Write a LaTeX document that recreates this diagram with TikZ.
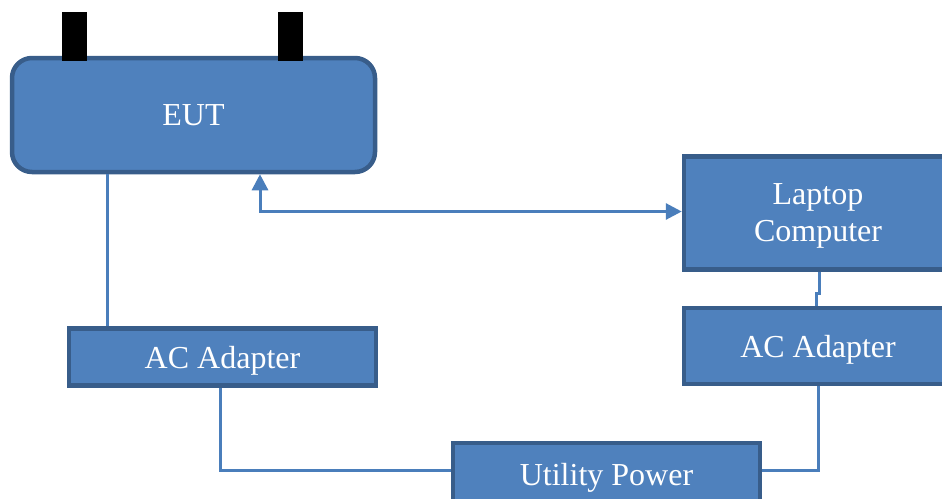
\documentclass[tikz,border=0pt]{standalone}
\usepackage{fontspec}
\setmainfont{Liberation Serif}
\usetikzlibrary{arrows.meta}
\definecolor{boxfill}{HTML}{4F81BD}
\definecolor{boxline}{HTML}{385D8A}
\definecolor{wireblue}{HTML}{4A7EBB}
\begin{document}
\begin{tikzpicture}[x=1pt,y=-1pt, every node/.style={font=\fontsize{32}{37}\selectfont, text=white},
    unit/.style={draw=boxline, fill=boxfill, line width=4.5pt, rectangle, inner sep=0pt, align=center, text depth=0pt},
    tab/.style={fill=black, rectangle, inner sep=0pt, minimum width=25pt, minimum height=49pt},
    wire/.style={draw=wireblue, line width=3pt},
    link/.style={wire, {Triangle[length=16pt,width=16pt]}-{Triangle[length=16pt,width=16pt]}}]
    \useasboundingbox (0,0) rectangle (942,498);
    \clip (0,0) rectangle (942,498);
    \node[unit, rounded corners=20pt, minimum width=363pt, minimum height=114pt] (eut) at (193.5,115) {EUT};
    \node[tab] (tabL) at (74.5,36.5) {};
    \node[tab] (tabR) at (290.5,36.5) {};
    \node[unit, minimum width=268pt, minimum height=113pt] (laptop) at (818,213) {Laptop\\Computer};
    \node[unit, minimum width=268pt, minimum height=76pt] (acR) at (818,346) {AC Adapter};
    \node[unit, minimum width=307pt, minimum height=57pt] (acL) at (222.5,357) {AC Adapter};
    \node[unit, minimum width=307pt, minimum height=62pt] (utility) at (606.5,474) {Utility Power};
    \draw[wire] ([xshift=-115.5pt]acL.north) -- ([xshift=-115.5pt]acL.north |- eut.south);
    \draw[link] ([xshift=66.5pt]eut.south) |- ([yshift=1.5pt]laptop.west);
    \draw[wire] ([xshift=1pt]laptop.south) -- ++(0,22) -| ([xshift=-2pt]acR.north);
    \draw[wire] ([xshift=-2.5pt]acL.south) |- ([yshift=4pt]utility.west);
    \draw[wire] (acR.south) |- ([yshift=4pt]utility.east);
\end{tikzpicture}
\end{document}
